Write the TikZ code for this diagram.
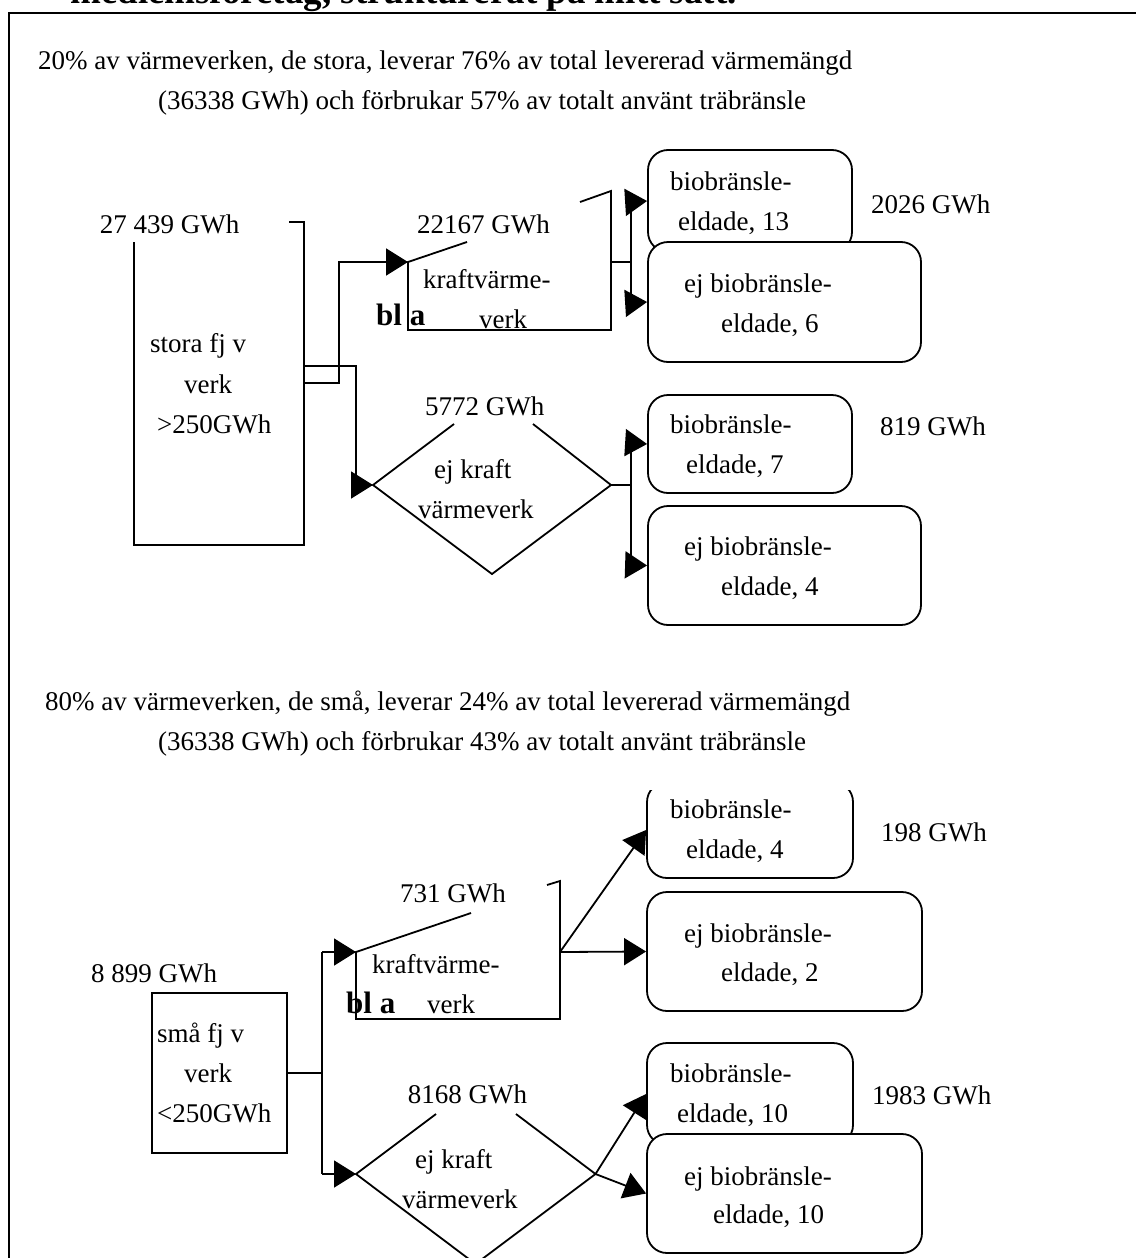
\documentclass[tikz,border=0pt]{standalone}
\usepackage{fontspec}
\setmainfont{Liberation Serif}
\usetikzlibrary{arrows.meta}
\newcommand\fsz{\fontsize{27pt}{32pt}\selectfont}
\newcommand\fbl{\fontsize{31pt}{36pt}\selectfont\bfseries}
\newcommand\ftitle{\fontsize{37pt}{44pt}\selectfont\bfseries}
\tikzset{
  txt/.style={anchor=base west, inner sep=0pt, font=\fsz},
  ln/.style={line width=1.8pt, line join=miter},
  rbox/.style={draw, line width=1.8pt, rounded corners=20pt, fill=white, inner sep=0pt},
  arr/.style={line width=1.8pt, -{Triangle[length=22pt,width=27pt]}},
}
\begin{document}
\begin{tikzpicture}[x=1pt,y=-1pt]
\useasboundingbox (0,0) rectangle (1135,1258);
% frame and cut title
\draw[line width=2.7pt] (9,1300) -- (9,13) -- (1200,13);
\node[anchor=base west, inner sep=0pt, font=\ftitle] (title) at (70,4) {medlemsföretag, strukturerat på mitt sätt.};

% ---------- upper part ----------
\node[txt] (t1) at (38,69) {20\% av värmeverken, de stora, leverar 76\% av total levererad värmemängd};
\node[txt] (t2) at (158,109) {(36338 GWh) och förbrukar 57\% av totalt använt träbränsle};

\node[txt] (a1) at (99.6,233) {27 439 GWh};
\draw[ln] (289,222) -- (304,222) -- (304,545) -- (134,545) -- (134,242);
\node[txt] (s1) at (150,352) {stora fj v};
\node[txt] (s2) at (184,393) {verk};
\node[txt] (s3) at (157,433) {>250GWh};

% kraftvärmeverk (upper)
\coordinate (kv1in) at (408,262);
\coordinate (kv1out) at (611,262);
\draw[ln] (467,242) -- (kv1in) -- (408,330) -- (611,330) -- (611,191) -- (580,202);
\node[txt] (k1lbl) at (417,233) {22167 GWh};
\node[txt] (k1a) at (423,288) {kraftvärme-};
\node[txt] (k1b) at (479,328) {verk};
\node[anchor=base west, inner sep=0pt, font=\fbl] (bla1) at (376,325) {bl a};

% diamond (upper)
\coordinate (d1in) at (373,485);
\coordinate (d1out) at (611,485);
\draw[ln] (454,424) -- (d1in) -- (492,574) -- (d1out) -- (533,424);
\node[txt] (d1lbl) at (425,415) {5772 GWh};
\node[txt] (d1a) at (434,478) {ej kraft};
\node[txt] (d1b) at (418,518) {värmeverk};

% connectors from big rect
\coordinate (r1a) at (304,383);
\coordinate (r1b) at (304,366);
\draw[arr] (r1a) -- (339,383) -- (339,262) -- (kv1in);
\draw[arr] (r1b) -- (356,366) -- (356,485) -- (d1in);

% right boxes (upper)
\node[rbox, minimum width=204pt, minimum height=102pt] (bio13) at (750,201) {};
\node[rbox, minimum width=273pt, minimum height=120pt] (ej6) at (784.5,302) {};
\node[rbox, minimum width=204pt, minimum height=98pt] (bio7) at (750,444) {};
\node[rbox, minimum width=273pt, minimum height=119pt] (ej4) at (784.5,565.5) {};

\node[txt] (b13a) at (670,190) {biobränsle-};
\node[txt] (b13b) at (678,230) {eldade, 13};
\node[txt] (g2026) at (871,213) {2026 GWh};
\node[txt] (e6a) at (684,292) {ej biobränsle-};
\node[txt] (e6b) at (721,332) {eldade, 6};
\node[txt] (b7a) at (670,433) {biobränsle-};
\node[txt] (b7b) at (686,473) {eldade, 7};
\node[txt] (g819) at (880,435) {819 GWh};
\node[txt] (e4a) at (684,555) {ej biobränsle-};
\node[txt] (e4b) at (721,595) {eldade, 4};

\coordinate (j1) at (631,262);
\draw[ln] (kv1out) -- (j1);
\draw[ln] (631,202) -- (631,303);
\draw[arr] (631,202) -- (bio13.west);
\draw[arr] (631,303) -- (ej6.west);
\coordinate (j2) at (631,485);
\draw[ln] (d1out) -- (j2);
\draw[ln] (631,443) -- (631,565);
\draw[arr] (631,443) -- (bio7.west);
\draw[arr] (631,565) -- (ej4.west);

% ---------- lower part ----------
\node[txt] (t3) at (45,710) {80\% av värmeverken, de små, leverar 24\% av total levererad värmemängd};
\node[txt] (t4) at (158,750) {(36338 GWh) och förbrukar 43\% av totalt använt träbränsle};

\node[txt] (a2) at (91,982) {8 899 GWh};
\node[draw, line width=1.8pt, minimum width=135pt, minimum height=160pt, inner sep=0pt] (small) at (219.5,1073) {};
\node[txt] (m1) at (157,1042) {små fj v};
\node[txt] (m2) at (184,1082) {verk};
\node[txt] (m3) at (157,1122) {<250GWh};

% kraftvärmeverk (lower)
\coordinate (kv2in) at (356,952);
\coordinate (kv2out) at (560,952);
\draw[ln] (471,913) -- (kv2in) -- (356,1019) -- (560,1019) -- (560,881) -- (547,885);
\node[txt] (k2lbl) at (400,902) {731 GWh};
\node[txt] (k2a) at (372,973) {kraftvärme-};
\node[txt] (k2b) at (427,1013) {verk};
\node[anchor=base west, inner sep=0pt, font=\fbl] (bla2) at (346,1013) {bl a};

% diamond (lower)
\coordinate (d2in) at (356,1174);
\coordinate (d2out) at (595.5,1174);
\draw[ln] (436,1114) -- (d2in) -- (475.5,1264) -- (d2out) -- (516,1114);
\node[txt] (d2lbl) at (407.6,1103) {8168 GWh};
\node[txt] (d2a) at (415,1168) {ej kraft};
\node[txt] (d2b) at (402,1208) {värmeverk};

% connectors from small rect
\draw[ln] (small.east) -- (322,1073);
\draw[ln] (322,952) -- (322,1174);
\draw[arr] (322,952) -- (kv2in);
\draw[arr] (322,1174) -- (d2in);

% right boxes (lower)
\begin{scope}
\clip (600,790) rectangle (900,900);
\node[rbox, minimum width=206pt, minimum height=96pt] (bio4) at (750,830) {};
\end{scope}
\node[rbox, minimum width=275pt, minimum height=119pt] (ej2) at (784.5,951.5) {};
\node[rbox, minimum width=206pt, minimum height=102pt] (bio10) at (750,1094) {};
\node[rbox, minimum width=275pt, minimum height=119pt] (ej10) at (784.5,1193.5) {};

\node[txt] (b4a) at (670,818) {biobränsle-};
\node[txt] (b4b) at (686,858) {eldade, 4};
\node[txt] (g198) at (881,841) {198 GWh};
\node[txt] (e2a) at (684,942) {ej biobränsle-};
\node[txt] (e2b) at (721,981) {eldade, 2};
\node[txt] (b10a) at (670,1082) {biobränsle-};
\node[txt] (b10b) at (677,1122) {eldade, 10};
\node[txt] (g1983) at (872,1104) {1983 GWh};
\node[txt] (e10a) at (684,1185) {ej biobränsle-};
\node[txt] (e10b) at (713,1223) {eldade, 10};

\draw[arr] (kv2out) -- (bio4.west);
\draw[arr] (kv2out) -- (ej2.west);
\draw[arr] (d2out) -- (bio10.west);
\draw[arr] (d2out) -- (ej10.west);
\end{tikzpicture}
\end{document}
